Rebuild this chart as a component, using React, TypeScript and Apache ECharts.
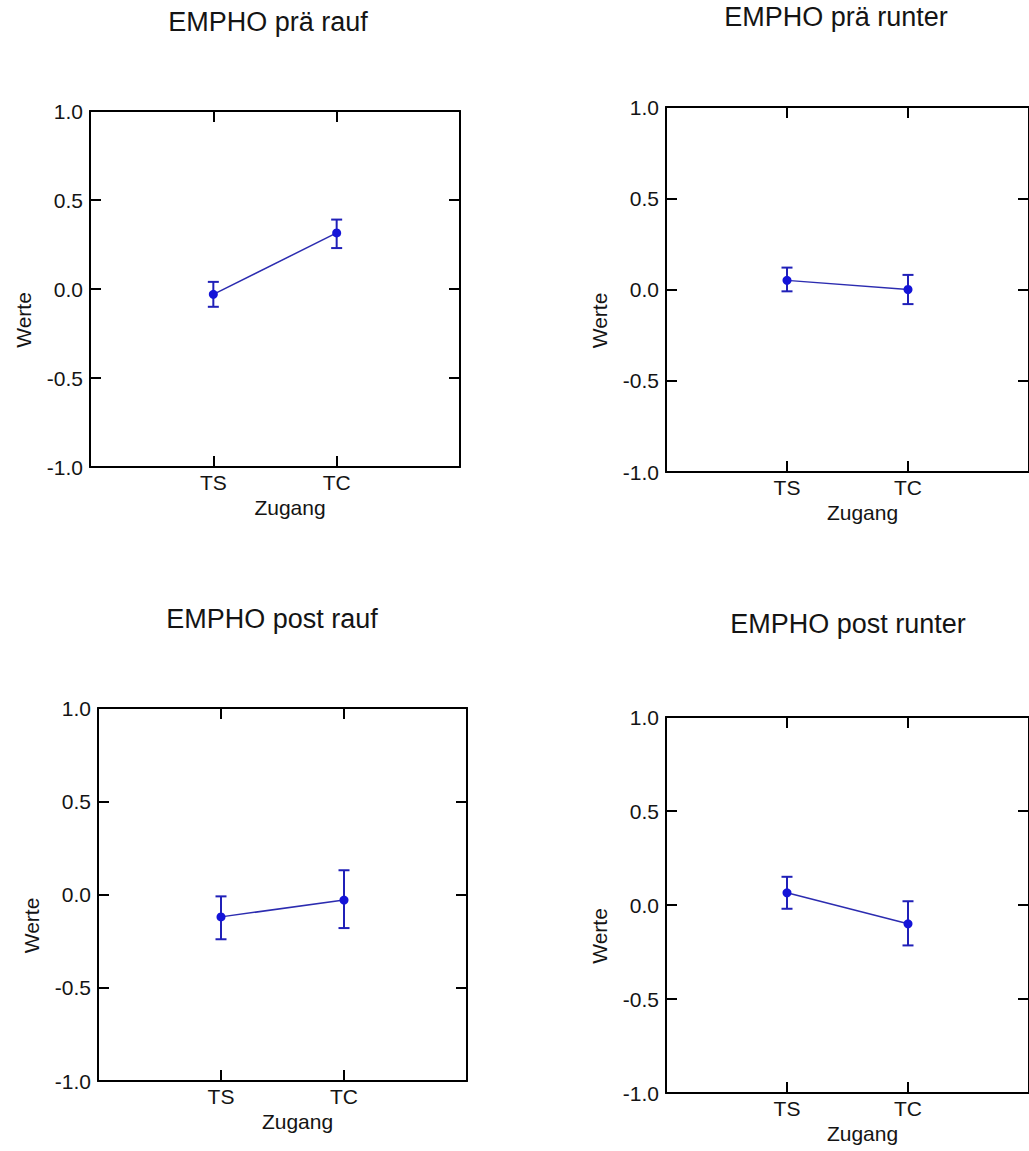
import React, { useEffect, useRef } from "react";
import * as echarts from "echarts";

// ---- data ----
const categories = ["TS", "TC"];
const titles = ["EMPHO prä rauf", "EMPHO prä runter", "EMPHO post rauf", "EMPHO post runter"];
const xAxisName = "Zugang";
const yAxisName = "Werte";

const praRaufMean = [-0.03, 0.315];
const praRaufLow = [-0.1, 0.23];
const praRaufHigh = [0.04, 0.39];

const praRunterMean = [0.05, 0.0];
const praRunterLow = [-0.01, -0.08];
const praRunterHigh = [0.12, 0.08];

const postRaufMean = [-0.12, -0.03];
const postRaufLow = [-0.24, -0.18];
const postRaufHigh = [-0.01, 0.13];

const postRunterMean = [0.065, -0.1];
const postRunterLow = [-0.02, -0.215];
const postRunterHigh = [0.15, 0.02];

const panels = [
  { mean: praRaufMean, low: praRaufLow, high: praRaufHigh },
  { mean: praRunterMean, low: praRunterLow, high: praRunterHigh },
  { mean: postRaufMean, low: postRaufLow, high: postRaufHigh },
  { mean: postRunterMean, low: postRunterLow, high: postRunterHigh },
];

// ---- layout / style ----
const FONT = "'Liberation Sans', Arial, sans-serif";
const TEXT = "#141414";
const grids = [
  { left: 90, top: 111, width: 370, height: 356 },
  { left: 666, top: 107, width: 364, height: 365 },
  { left: 98, top: 708, width: 369, height: 373 },
  { left: 666, top: 717, width: 378, height: 376 },
];
const titlePos = [
  { x: 268, y: 8 },
  { x: 836, y: 3 },
  { x: 272, y: 605 },
  { x: 848, y: 610 },
];
const LINE_COLOR = "#2c2cb0";
const POINT_COLOR = "#1414d8";
const BAR_COLOR = "#2020b8";

function buildOption() {
  const xAxes: any[] = [];
  const yAxes: any[] = [];
  const series: any[] = [];
  const tickPos = categories.map((_, i) => i + 1);
  const axisLine = { show: true, onZero: false, lineStyle: { color: "#000", width: 2 } };

  grids.forEach((g, i) => {
    const baseX = {
      gridIndex: i,
      type: "value",
      min: 0,
      max: categories.length + 1,
      interval: 1,
      axisLine,
      splitLine: { show: false },
      axisTick: {
        show: true,
        inside: true,
        length: 11,
        customValues: tickPos,
        lineStyle: { color: "#000", width: 2 },
      },
    };
    xAxes.push({
      ...baseX,
      position: "bottom",
      axisLabel: {
        show: true,
        customValues: tickPos,
        formatter: (v: number) => categories[Math.round(v) - 1] ?? "",
        color: TEXT,
        fontSize: 21,
        fontFamily: FONT,
        margin: 5,
      },
      name: xAxisName,
      nameLocation: "middle",
      nameGap: 30,
      nameTextStyle: { color: TEXT, fontSize: 21, fontFamily: FONT, padding: [0, 0, 0, 30] },
    });
    xAxes.push({ ...baseX, position: "top", axisLabel: { show: false } });

    const baseY = {
      gridIndex: i,
      type: "value",
      min: -1,
      max: 1,
      interval: 0.5,
      axisLine,
      splitLine: { show: false },
      axisTick: { show: true, inside: true, length: 11, lineStyle: { color: "#000", width: 2 } },
    };
    yAxes.push({
      ...baseY,
      position: "left",
      axisLabel: {
        show: true,
        showMinLabel: true,
        showMaxLabel: true,
        formatter: (v: number) => v.toFixed(1),
        color: TEXT,
        fontSize: 21,
        fontFamily: FONT,
        margin: 7,
      },
      name: yAxisName,
      nameLocation: "middle",
      nameRotate: 90,
      nameGap: 56,
      nameTextStyle: { color: TEXT, fontSize: 21, fontFamily: FONT, padding: [0, 62, 0, 0] },
    });
    yAxes.push({ ...baseY, position: "right", axisLabel: { show: false } });

    const p = panels[i];
    series.push({
      type: "custom",
      xAxisIndex: i * 2,
      yAxisIndex: i * 2,
      silent: true,
      z: 3,
      encode: { x: 0, y: [1, 2] },
      data: categories.map((_, k) => [k + 1, p.low[k], p.high[k]]),
      renderItem: (params: any, api: any) => {
        const x = api.value(0);
        const lo = api.coord([x, api.value(1)]);
        const hi = api.coord([x, api.value(2)]);
        const hw = 5.5;
        const style = { stroke: BAR_COLOR, lineWidth: 2 };
        return {
          type: "group",
          children: [
            { type: "line", shape: { x1: hi[0], y1: hi[1], x2: lo[0], y2: lo[1] }, style },
            { type: "line", shape: { x1: hi[0] - hw, y1: hi[1], x2: hi[0] + hw, y2: hi[1] }, style },
            { type: "line", shape: { x1: lo[0] - hw, y1: lo[1], x2: lo[0] + hw, y2: lo[1] }, style },
          ],
        };
      },
    });
    series.push({
      type: "line",
      xAxisIndex: i * 2,
      yAxisIndex: i * 2,
      z: 4,
      symbol: "circle",
      symbolSize: 9,
      itemStyle: { color: POINT_COLOR },
      lineStyle: { color: LINE_COLOR, width: 1.5 },
      data: categories.map((_, k) => [k + 1, p.mean[k]]),
    });
  });

  return {
    animation: false,
    backgroundColor: "#ffffff",
    title: titles.map((t, i) => ({
      text: t,
      left: titlePos[i].x,
      top: titlePos[i].y,
      textAlign: "center",
      padding: 0,
      textStyle: { color: TEXT, fontSize: 27, fontWeight: "normal", fontFamily: FONT },
    })),
    grid: grids.map((g) => ({ ...g, containLabel: false })),
    xAxis: xAxes,
    yAxis: yAxes,
    series,
  };
}

export default function App() {
  const ref = useRef<HTMLDivElement>(null);
  useEffect(() => {
    document.body.style.margin = "0";
    document.body.style.overflow = "hidden";
    const chart = echarts.init(ref.current!, null, { renderer: "svg" });
    chart.setOption(buildOption() as any);
    return () => chart.dispose();
  }, []);
  return <div ref={ref} style={{ width: 1029, height: 1151 }} />;
}
